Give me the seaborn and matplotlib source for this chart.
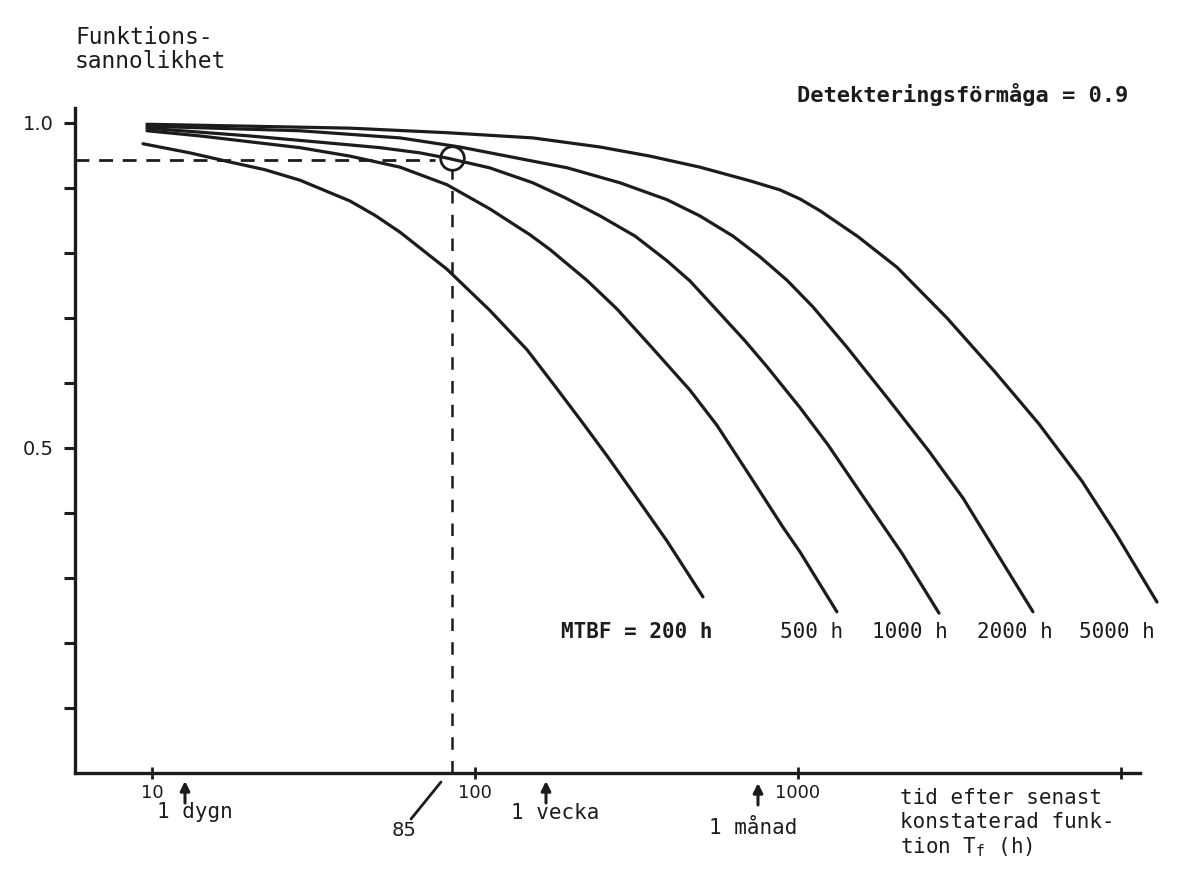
import numpy as np
import pandas as pd
import matplotlib.pyplot as plt
from matplotlib.lines import Line2D
import seaborn as sns

# =====================================================
# DATA
# =====================================================
mtbf_etiketter = ["200 h", "500 h", "1000 h", "2000 h", "5000 h"]

tid_200 = [9.38, 13.1, 17.4, 22.4, 28.7, 41.0, 49.0, 58.6, 81.9, 111, 145, 177, 216, 258,
           308, 393, 508]
p_200 = [0.968, 0.954, 0.940, 0.928, 0.912, 0.880, 0.858, 0.832, 0.775, 0.712, 0.651,
         0.595, 0.538, 0.486, 0.432, 0.357, 0.271]

tid_500 = [9.65, 14.1, 20.1, 28.7, 41.0, 58.6, 81.9, 111, 148, 171, 222, 275, 348, 463,
           561, 710, 899, 1015, 1320]
p_500 = [0.988, 0.980, 0.971, 0.962, 0.949, 0.932, 0.905, 0.868, 0.828, 0.805, 0.758,
         0.714, 0.658, 0.589, 0.535, 0.457, 0.378, 0.340, 0.248]

tid_1000 = [9.65, 20.1, 35.6, 50.8, 67.5, 81.9, 111, 151, 190, 244, 313, 393, 463, 561,
            685, 802, 1015, 1238, 1578, 2099, 2733]
p_1000 = [0.992, 0.980, 0.969, 0.962, 0.954, 0.946, 0.931, 0.908, 0.885, 0.857, 0.826,
          0.788, 0.757, 0.712, 0.665, 0.625, 0.562, 0.505, 0.428, 0.338, 0.246]

tid_2000 = [9.65, 28.7, 58.6, 89.9, 193, 281, 393, 497, 629, 763, 925, 1113, 1418, 1913,
            2545, 3243, 4131, 5341]
p_2000 = [0.995, 0.988, 0.977, 0.963, 0.931, 0.908, 0.882, 0.857, 0.826, 0.794, 0.758,
          0.717, 0.655, 0.574, 0.495, 0.423, 0.338, 0.248]

tid_5000 = [9.65, 20.1, 41.0, 81.9, 151, 244, 348, 497, 710, 880, 1015, 1170, 1535, 2026,
            2893, 4073, 5573, 7573, 9650, 12930]
p_5000 = [0.998, 0.995, 0.992, 0.985, 0.977, 0.963, 0.949, 0.932, 0.911, 0.897, 0.883,
          0.865, 0.825, 0.778, 0.700, 0.617, 0.537, 0.449, 0.368, 0.263]

# markerad punkt (85 h)
punkt_tid = 85
punkt_p = 0.943

y_ticks = [0.1, 0.2, 0.3, 0.4, 0.5, 0.6, 0.7, 0.8, 0.9, 1.0]
y_ticklabels = ["", "", "", "", "0.5", "", "", "", "", "1.0"]
x_ticks = [10, 100, 1000, 10000]
x_ticklabels = ["10", "100", "1000", ""]

kurvor = [(tid_200, p_200), (tid_500, p_500), (tid_1000, p_1000),
          (tid_2000, p_2000), (tid_5000, p_5000)]
df = pd.concat(
    [pd.DataFrame({"tid": t, "p": p, "MTBF": namn})
     for namn, (t, p) in zip(mtbf_etiketter, kurvor)],
    ignore_index=True,
)

# =====================================================
# FIGUR
# =====================================================
W, H = 1202, 894
sns.set_style("ticks")
MONO = "DejaVu Sans Mono"
SANS = "DejaVu Sans"
INK = "#1c1c1c"

def fx(px):
    return px / W

def fy(py):
    return 1 - py / H

fig = plt.figure(figsize=(W / 100, H / 100), dpi=100)
ax = fig.add_axes([fx(75), fy(773), fx(1160) - fx(75), fy(108) - fy(773)])
ax.set_xscale("log")

sns.lineplot(data=df, x="tid", y="p", hue="MTBF", palette=[INK] * 5,
             estimator=None, sort=False, legend=False, lw=2.3, ax=ax)
for ln in ax.get_lines():
    ln.set_solid_joinstyle("round")
    ln.set_solid_capstyle("round")

# streckade hjälplinjer och ring kring punkten
ax.plot([5.777, 75], [punkt_p, punkt_p], color=INK, lw=2.0,
        ls=(0, (5, 3.5)))
ax.plot([punkt_tid, punkt_tid], [0.0, 0.928], color=INK, lw=1.8,
        ls=(0, (5, 4.5)))
ax.plot([punkt_tid], [0.9455], marker="o", ms=17, mfc="none", mec=INK, mew=2.0)

ax.set_xlim(5.777, 13210)
ax.set_ylim(0, 1.023)

ax.set_xticks(x_ticks, x_ticklabels)
ax.set_yticks(y_ticks, y_ticklabels)
ax.xaxis.set_minor_locator(plt.NullLocator())
ax.tick_params(axis="x", bottom=True, direction="inout", length=8, width=2,
               color=INK, pad=4, labelsize=13, labelcolor=INK)
ax.tick_params(axis="y", left=True, direction="out", length=8, width=2.2,
               color=INK, pad=7, labelsize=14, labelcolor=INK)
for lab in ax.get_xticklabels() + ax.get_yticklabels():
    lab.set_family(SANS)

sns.despine(ax=ax)
for s in ["left", "bottom"]:
    ax.spines[s].set_linewidth(2.4)
    ax.spines[s].set_color(INK)
ax.spines["bottom"].set_bounds(5.777, 11460)
ax.set_xlabel("")
ax.set_ylabel("")

# =====================================================
# TEXTER
# =====================================================
fig.text(fx(75), fy(38), "Funktions-", family=MONO, fontsize=16.5,
         color=INK, va="center", ha="left")
fig.text(fx(75), fy(62), "sannolikhet", family=MONO, fontsize=16.5,
         color=INK, va="center", ha="left")
fig.text(fx(797), fy(95), "Detekteringsförmåga = 0.9", family=MONO,
         fontsize=15.8, color=INK, va="center", ha="left", weight="bold")

fig.text(fx(637), fy(632), "MTBF = 200 h", family=MONO, fontsize=15,
         color=INK, va="center", ha="center", weight="bold")
for namn, px in zip(mtbf_etiketter[1:], [812, 910, 1015, 1117]):
    fig.text(fx(px), fy(632), namn, family=MONO, fontsize=15, color=INK,
             va="center", ha="center")

for rad, py in zip(["tid efter senast", "konstaterad funk-",
                    r"tion T$\mathregular{_f}$ (h)"], [798, 822, 847]):
    fig.text(fx(900), fy(py), rad, family=MONO, fontsize=15, color=INK,
             va="center", ha="left")

# pilar för 1 dygn, 1 vecka, 1 månad
for text, px_pil, px_text, py_text, py_topp in [("1 dygn", 185, 195, 812, 781),
                                                ("1 vecka", 546, 555, 813, 781),
                                                ("1 månad", 758, 753, 828, 783)]:
    ax.annotate("", xy=(fx(px_pil), fy(py_topp)),
                xytext=(fx(px_pil), fy(py_topp + 22)),
                xycoords="figure fraction", textcoords="figure fraction",
                arrowprops=dict(arrowstyle="-|>", lw=2.2, color=INK,
                                mutation_scale=14, shrinkA=0, shrinkB=0))
    fig.text(fx(px_text), fy(py_text), text, family=MONO, fontsize=15,
             color=INK, va="center", ha="center")

# 85-markering
fig.add_artist(Line2D([fx(411), fx(441)], [fy(819), fy(782)], color=INK, lw=2.0))
fig.text(fx(404), fy(831), "85", family=SANS, fontsize=14, color=INK,
         va="center", ha="center")

fig.savefig("out.png", dpi=100, facecolor="white")
